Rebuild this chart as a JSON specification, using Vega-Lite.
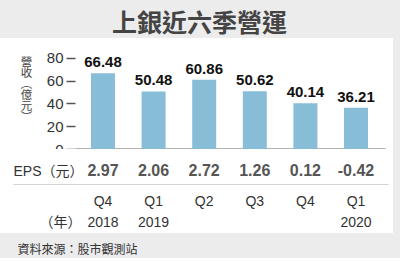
{
  "$schema": "https://vega.github.io/schema/vega-lite/v6.json",
  "background": "#ececec",
  "padding": {"left": 0, "top": 12, "right": 7, "bottom": 3},
  "title": {"text": "上銀近六季營運", "fontSize": 25, "fontWeight": "bold", "color": "#444444", "font": "Noto Sans CJK TC", "anchor": "middle", "offset": 1, "frame": "group", "dx": 3},
  "datasets": {
    "main": [
      {"period": "2018Q4", "quarter": "Q4", "year": "2018", "revenue": 66.48, "eps": 2.97},
      {"period": "2019Q1", "quarter": "Q1", "year": "2019", "revenue": 50.48, "eps": 2.06},
      {"period": "2019Q2", "quarter": "Q2", "year": "", "revenue": 60.86, "eps": 2.72},
      {"period": "2019Q3", "quarter": "Q3", "year": "", "revenue": 50.62, "eps": 1.26},
      {"period": "2019Q4", "quarter": "Q4", "year": "", "revenue": 40.14, "eps": 0.12},
      {"period": "2020Q1", "quarter": "Q1", "year": "2020", "revenue": 36.21, "eps": -0.42}
    ]
  },
  "spacing": 0,
  "bounds": "flush",
  "vconcat": [
    {
      "width": 393,
      "height": 111,
      "view": {"fill": "white", "stroke": null},
      "data": {"name": "main"},
      "encoding": {
        "x": {"field": "period", "type": "nominal", "sort": null,
          "scale": {"type": "band", "range": [75, 385], "paddingInner": 0.526, "paddingOuter": 0.326, "align": 0.485},
          "axis": {"orient": "bottom", "domain": true, "domainColor": "#666666", "domainWidth": 2, "ticks": false, "labels": false, "title": null}},
        "y": {"field": "revenue", "type": "quantitative",
          "scale": {"domain": [0, 97.4], "nice": false},
          "axis": {"orient": "left", "offset": -75, "values": [0, 20, 40, 60, 80], "domain": false, "grid": false,
            "ticks": true, "tickSize": 9, "tickColor": "#555555", "tickWidth": 1.5,
            "labelFontSize": 15, "labelColor": "#333333", "labelPadding": 3,
            "title": ["營", "收", "︵", "億", "元", "︶"], "titleAngle": 0, "titleFontSize": 11.5, "titleFontWeight": "normal",
            "titleColor": "#444444", "titleX": -49, "titleY": 18, "titleAlign": "center", "titleBaseline": "top", "titleLineHeight": 11,
            "titleFont": "Noto Sans CJK TC"}}
      },
      "layer": [
        {"mark": {"type": "bar", "color": "#88bdd8"}},
        {"mark": {"type": "text", "baseline": "bottom", "dy": -3, "fontSize": 15, "fontWeight": "bold", "color": "#111111"},
          "encoding": {"text": {"field": "revenue", "type": "quantitative", "format": ".2f"}}}
      ]
    },
    {
      "width": 393,
      "height": 36,
      "view": {"fill": "white", "stroke": null},
      "data": {"name": "main"},
      "transform": [{"fold": ["eps"], "as": ["metric", "value"]}],
      "mark": {"type": "text", "fontSize": 16, "fontWeight": "bold", "color": "#555555"},
      "encoding": {
        "x": {"field": "period", "type": "nominal", "sort": null,
          "scale": {"type": "band", "range": [13, 388], "paddingInner": 0, "paddingOuter": 0.7055, "align": 0.906},
          "axis": {"orient": "bottom", "domain": true, "domainColor": "#555555", "domainWidth": 1.5, "ticks": false, "labels": false, "title": null}},
        "y": {"field": "metric", "type": "nominal",
          "scale": {"align": 0.62},
          "axis": {"orient": "left", "offset": -83, "domain": false, "ticks": false, "labelPadding": 0, "labelFontSize": 14,
            "labelColor": "#333333", "labelExpr": "'EPS（元）'", "title": null, "labelFont": "Liberation Sans, Noto Sans CJK TC"}},
        "text": {"field": "value", "type": "quantitative", "format": ".2f"}
      }
    },
    {
      "width": 393,
      "height": 48,
      "view": {"fill": "white", "stroke": null},
      "data": {"name": "main"},
      "transform": [{"fold": ["quarter", "year"], "as": ["row", "label"]}],
      "mark": {"type": "text", "fontSize": 14, "color": "#333333"},
      "encoding": {
        "x": {"field": "period", "type": "nominal", "sort": null,
          "scale": {"type": "band", "range": [13, 388], "paddingInner": 0, "paddingOuter": 0.7055, "align": 0.906},
          "axis": {"orient": "bottom", "domain": false, "ticks": false, "labels": false,
            "title": "資料來源：股市觀測站", "titleAnchor": "start", "titleAlign": "left", "titleX": 17, "titleY": 11, "titleBaseline": "top",
            "titleFontSize": 12, "titleFontWeight": "normal", "titleColor": "#333333", "titleFont": "Noto Sans CJK TC"}},
        "y": {"field": "row", "type": "nominal", "sort": ["quarter", "year"],
          "scale": {"padding": 0.66, "align": 0.62},
          "axis": {"orient": "left", "offset": -81, "domain": false, "ticks": false, "labelPadding": 0, "labelFontSize": 14,
            "labelColor": "#333333", "labelExpr": "datum.value == 'year' ? '（年）' : ''", "title": null, "labelFont": "Noto Sans CJK TC"}},
        "text": {"field": "label", "type": "nominal"}
      }
    }
  ],
  "config": {
    "font": "Liberation Sans, Noto Sans CJK TC",
    "view": {"stroke": null},
    "locale": {"number": {"decimal": ".", "thousands": ",", "grouping": [3], "currency": ["$", ""], "minus": "-"}}
  }
}
